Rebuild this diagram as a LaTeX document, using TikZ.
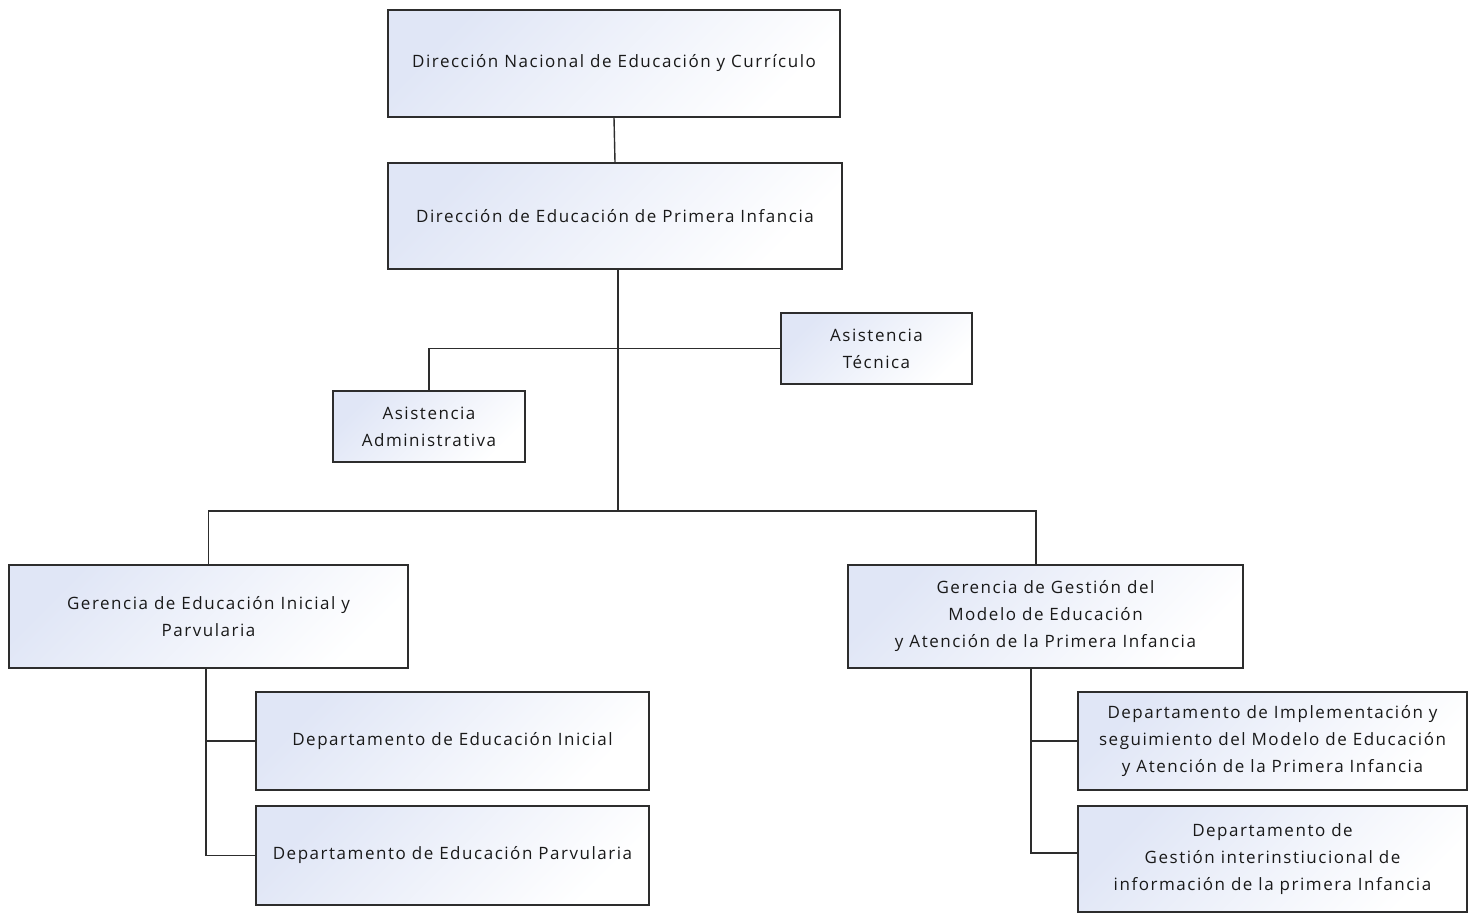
\documentclass[tikz,border=0pt]{standalone}
\usepackage{fontspec}
\setmainfont[LetterSpace=9]{Open Sans}
\usetikzlibrary{calc}
\definecolor{edge}{RGB}{45,45,45}
\definecolor{tint}{RGB}{224,230,246}
\definecolor{ink}{RGB}{25,25,25}
\tikzset{
  orgbox/.style={draw=edge, line width=1.6pt, left color=tint, middle color=white, right color=white, shading angle=45,
    minimum width=#1, inner sep=2pt, align=center, text=ink,
    font=\fontsize{17}{27}\selectfont,
    path picture={\draw[edge,line width=2.2pt] (path picture bounding box.south west) -- (path picture bounding box.south east) -- (path picture bounding box.north east);}},
  link/.style={draw=edge, line width=1.4pt}
}
\begin{document}
\begin{tikzpicture}[x=1pt,y=-1pt]
\useasboundingbox (0,0) rectangle (1468,914);
\node[orgbox=452pt, minimum height=107pt] (b1) at (614,63.5) {Dirección Nacional de Educación y Currículo};
\node[orgbox=454pt, minimum height=106pt] (b2) at (615,216) {Dirección de Educación de Primera Infancia};
\node[orgbox=191pt, minimum height=71pt] (at) at (876.5,348.5) {Asistencia\\Técnica};
\node[orgbox=192pt, minimum height=71pt] (aa) at (429,426.5) {Asistencia\\Administrativa};
\node[orgbox=399pt, minimum height=103pt] (gl) at (208.5,616.5) {Gerencia de Educación Inicial y\\Parvularia};
\node[orgbox=395pt, minimum height=103pt] (gr) at (1045.5,616.5) {Gerencia de Gestión del\\Modelo de Educación\\y Atención de la Primera Infancia};
\node[orgbox=393pt, minimum height=98pt] (di) at (452.5,741) {Departamento de Educación Inicial};
\node[orgbox=393pt, minimum height=99pt] (dp) at (452.5,855.5) {Departamento de Educación Parvularia};
\node[orgbox=389pt, minimum height=98pt] (dimp) at (1272.5,741) {Departamento de Implementación y\\seguimiento del Modelo de Educación\\y Atención de la Primera Infancia};
\node[orgbox=389pt, minimum height=106pt] (dg) at (1272.5,859) {Departamento de\\Gestión interinstiucional de\\información de la primera Infancia};
\coordinate (tb) at (618,511);
\coordinate (jr) at (1036,511);
\coordinate (lv) at (206,668);
\coordinate (rv) at (1031,668);
\coordinate (rb) at (1031,853);
\draw[link] (b1.south) -- (b2.north);
\draw[link] (b2.south -| tb) -- (tb);
\draw[link] (aa.north) |- (at.west);
\draw[link] (gl.north) |- (jr) -- (jr |- gr.north);
\draw[link] (lv) |- (dp.west);
\draw[link] (di.west) -- (di.west -| lv);
\draw[link] (rv) -- (rb) -- (rb -| dg.west);
\draw[link] (dimp.west) -- (dimp.west -| rv);
\end{tikzpicture}
\end{document}
